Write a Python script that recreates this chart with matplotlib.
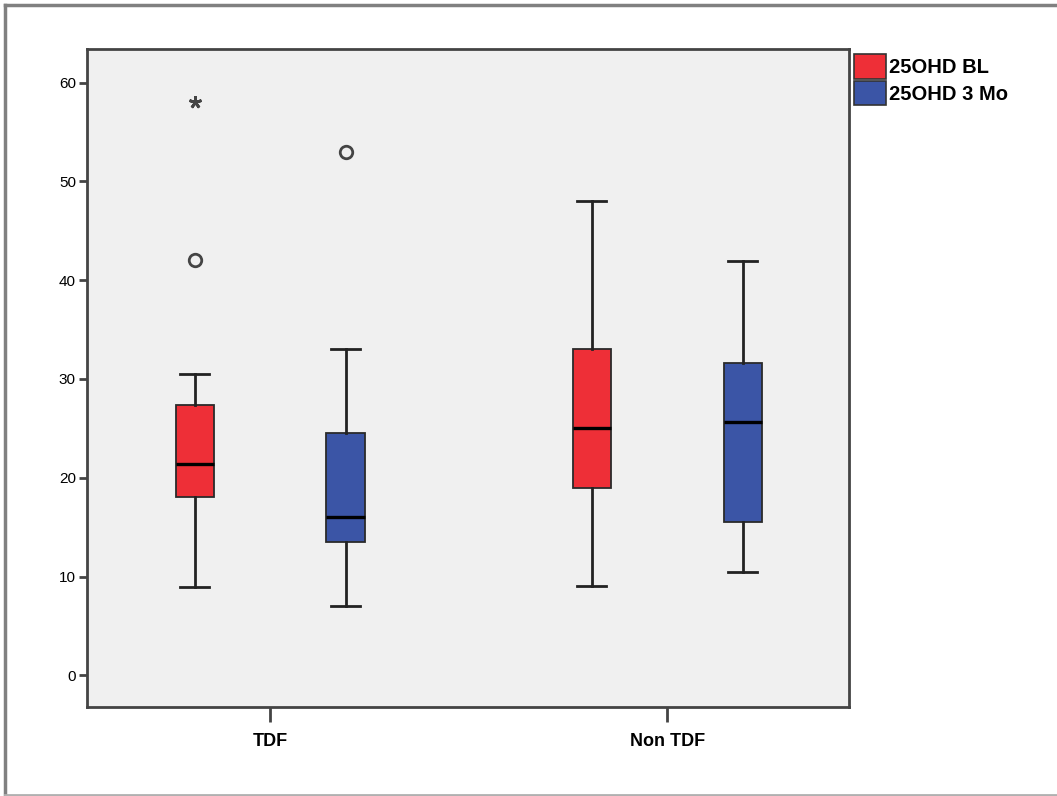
import matplotlib.pyplot as plt
from matplotlib.patches import Patch
from matplotlib.lines import Line2D

# values
groups = ['TDF', 'Non TDF']
series = ['25OHD BL', '25OHD 3 Mo']
colors = ['#EE2F37', '#3B55A6']

whislo = [[8.9, 9.0], [7.0, 10.5]]
q1     = [[18.05, 19.0], [13.5, 15.5]]
med    = [[21.4, 25.0], [16.0, 25.6]]
q3     = [[27.4, 33.0], [24.5, 31.6]]
whishi = [[30.5, 48.0], [33.0, 41.9]]
outliers = [[[42.0], []], [[53.0], []]]
extremes = [[[58.0], []], [[], []]]

OFFSET = 0.19
WIDTH = 0.096

fig = plt.figure(figsize=(10.57, 7.96), dpi=100)
ax = fig.add_axes([87/1057, 1-707/796, 762/1057, 658/796])
ax.set_facecolor('#F0F0F0')

for s, name in enumerate(series):
    stats = []
    for g in range(len(groups)):
        stats.append(dict(whislo=whislo[s][g], q1=q1[s][g], med=med[s][g],
                          q3=q3[s][g], whishi=whishi[s][g], fliers=outliers[s][g]))
    pos = [g + (-OFFSET if s == 0 else OFFSET) for g in range(len(groups))]
    ax.bxp(stats, positions=pos, widths=WIDTH, patch_artist=True,
           showfliers=True, manage_ticks=False,
           boxprops=dict(facecolor=colors[s], edgecolor='#2a2a2a', linewidth=1.3),
           medianprops=dict(color='black', linewidth=2.4),
           whiskerprops=dict(color='#222222', linewidth=2.0),
           capprops=dict(color='#222222', linewidth=2.0),
           capwidths=WIDTH * 0.75,
           flierprops=dict(marker='o', markersize=9, markerfacecolor='none',
                           markeredgecolor='#444444', markeredgewidth=2))
    for g in range(len(groups)):
        for v in extremes[s][g]:
            ax.plot(pos[g], v, marker=(5, 2, 0), markersize=9,
                    color='#444444', markeredgewidth=2.0, linestyle='none')

ax.set_xlim(-0.461, 1.458)
ax.set_ylim(-3.2, 63.4)
ax.set_xticks(range(len(groups)))
ax.set_xticklabels(groups, fontsize=13, fontweight='bold', family='Liberation Sans')
ax.set_yticks([0, 10, 20, 30, 40, 50, 60])
ax.tick_params(axis='y', labelsize=11, length=6, width=2, color='#444444', pad=2)
ax.tick_params(axis='x', length=11, width=2, color='#444444', pad=8)
for lab in ax.get_yticklabels():
    lab.set_family('Liberation Sans')
for sp in ax.spines.values():
    sp.set_linewidth(2)
    sp.set_color('#444444')

handles = [Patch(facecolor=c, edgecolor='#333333', linewidth=1.2) for c in colors]
leg = fig.legend(handles, series, loc='upper left', bbox_to_anchor=(850/1057, 1-50/796),
                 frameon=False, handlelength=1.6, handleheight=1.5, handletextpad=0.15,
                 labelspacing=0.1, borderpad=0.2, borderaxespad=0,
                 prop=dict(family='Liberation Sans', weight='bold', size=14.5))

# outer frame (top, left, bottom)
fig.add_artist(Line2D([5/1057, 1], [1-5/796, 1-5/796], color='#808080', linewidth=2.5))
fig.add_artist(Line2D([5/1057, 5/1057], [1-5/796, 1-795/796], color='#808080', linewidth=2.5))
fig.add_artist(Line2D([5/1057, 1], [1-795/796, 1-795/796], color='#b0b0b0', linewidth=2))

fig.savefig('out.png', dpi=100)
